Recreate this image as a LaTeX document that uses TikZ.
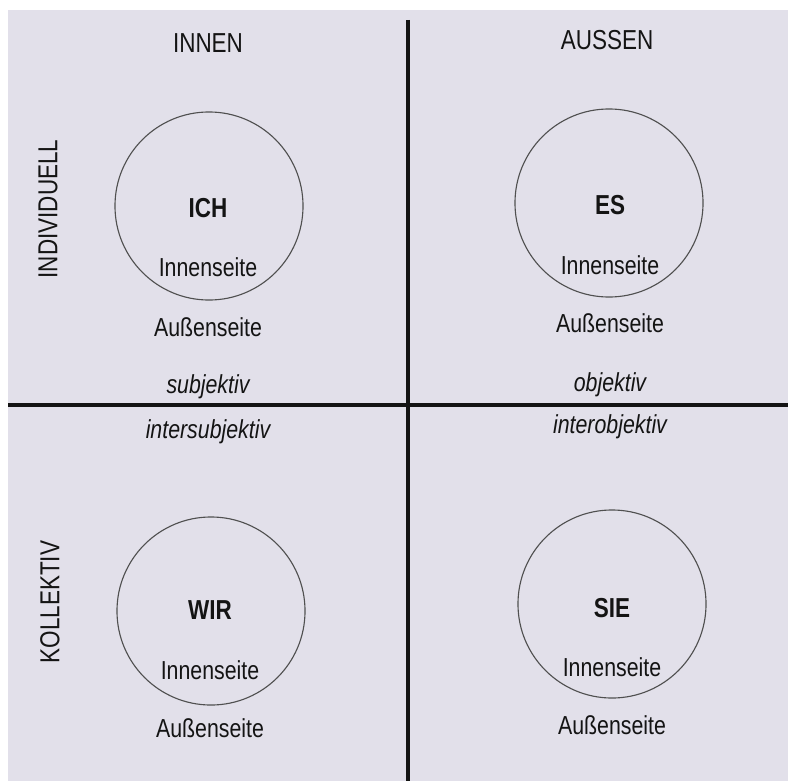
\documentclass[tikz,border=0pt]{standalone}
\usepackage{fontspec}
\setmainfont[FakeStretch=0.82]{Liberation Sans}
\usetikzlibrary{positioning}
\definecolor{paper}{HTML}{E2E0EA}
\definecolor{ink}{HTML}{141414}
\definecolor{ringgray}{HTML}{505050}
\tikzset{
  ring/.style={draw=ringgray, circle, line width=0.8pt, minimum size=4.7cm, inner sep=0pt},
  head/.style={font=\fontsize{19.5}{22}\selectfont, text=ink},
  pron/.style={font=\fontsize{19.5}{22}\selectfont\bfseries, text=ink},
  side/.style={font=\fontsize{18.5}{22}\selectfont, text=ink},
  mode/.style={font=\fontsize{18.5}{22}\selectfont\itshape, text=ink},
  axis/.style={line width=2.3pt, draw=ink},
}

\begin{document}
\begin{tikzpicture}[x=0.025cm, y=-0.025cm]
    % page and margins
    \fill[white] (0,0) rectangle (788,781);
    \fill[paper] (8,10) rectangle (788,781);
    \useasboundingbox (0,0) rectangle (788,781);
    % the two axes
    \coordinate (top) at (408,20); \coordinate (bot) at (408,781);
    \coordinate (lft) at (8,405);  \coordinate (rgt) at (788,405);
    \draw[axis] (top) -- (bot); \draw[axis] (lft) -- (rgt);
    % headings
    \node[head] (innen) at (208,43) {INNEN};
    \node[head] (aussen) at (607,40) {AUSSEN};
    \node[head, rotate=90] (indiv) at (48,209) {INDIVIDUELL};
    \node[head, rotate=90] (koll) at (50,602) {KOLLEKTIV};
    % upper left
    \node[ring] (ich) at (209,206) {};
    \node[pron] (ichT) at (208,208) {ICH};
    \node[side] (ichI) at (208,267) {Innenseite};
    \node[side] (ichA) at (208,327) {Außenseite};
    \node[mode] (subj) at (208,387) {subjektiv};
    % upper right
    \node[ring] (es) at (609,203) {};
    \node[pron] (esT) at (610,205) {ES};
    \node[side] (esI) at (610,265) {Innenseite};
    \node[side] (esA) at (610,323) {Außenseite};
    \node[mode] (obj) at (610,385) {objektiv};
    % lower left
    \node[mode] (intsubj) at (208,432) {intersubjektiv};
    \node[ring] (wir) at (211,611) {};
    \node[pron] (wirT) at (210,610) {WIR};
    \node[side] (wirI) at (210,670) {Innenseite};
    \node[side] (wirA) at (210,728) {Außenseite};
    % lower right
    \node[mode] (intobj) at (610,427) {interobjektiv};
    \node[ring] (sie) at (612,604) {};
    \node[pron] (sieT) at (612,608) {SIE};
    \node[side] (sieI) at (612,667) {Innenseite};
    \node[side] (sieA) at (612,725) {Außenseite};
\end{tikzpicture}
\end{document}
